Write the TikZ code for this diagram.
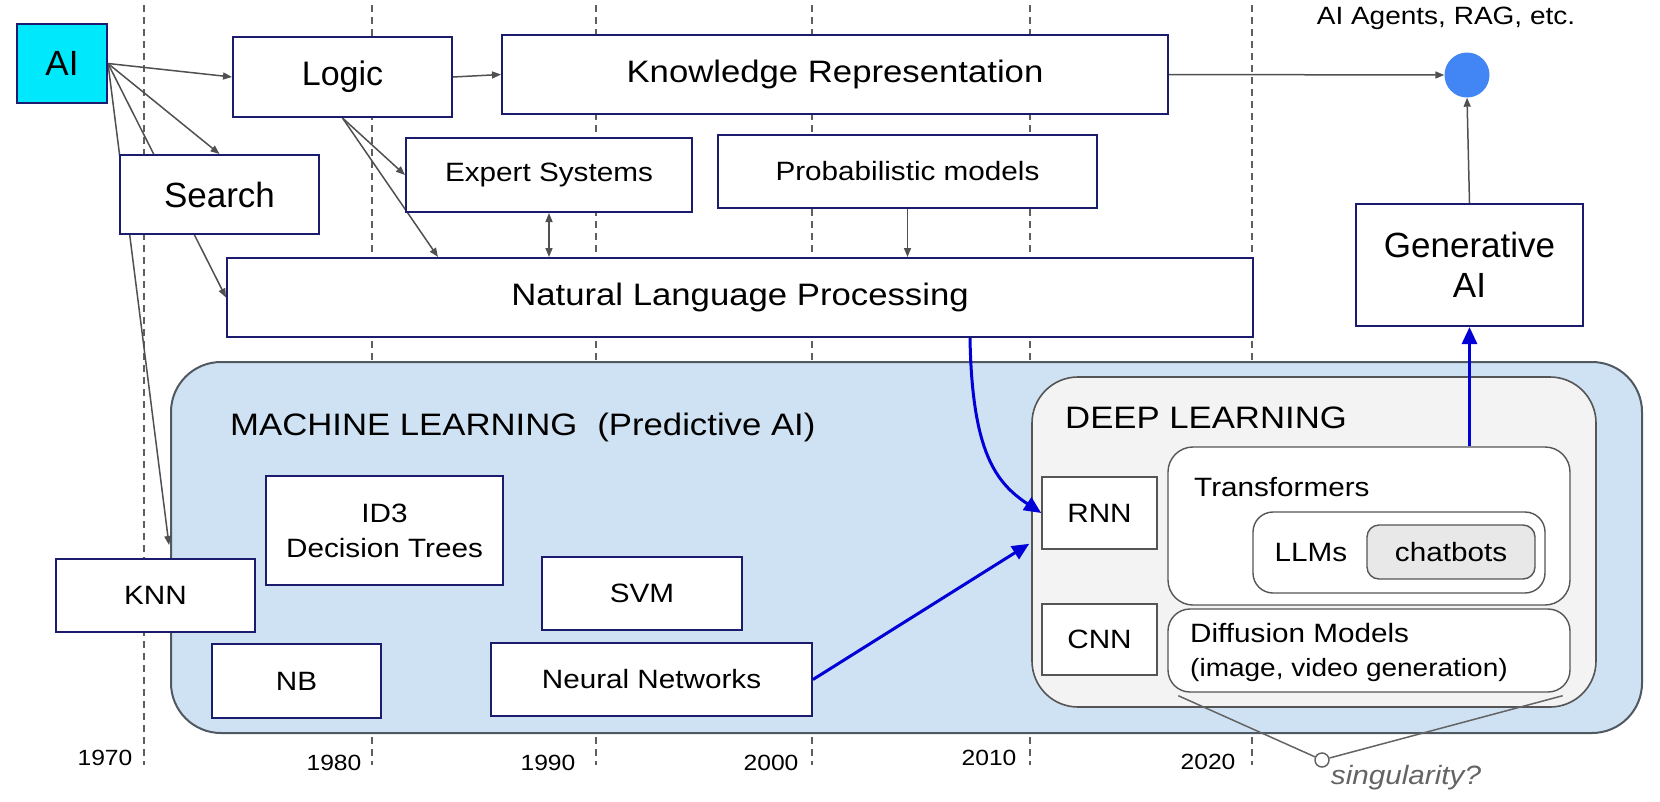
\documentclass[tikz,border=0pt]{standalone}
\usepackage{fontspec}
\setmainfont[FakeStretch=1.12]{Liberation Sans}
\newfontfamily\plainsans{Liberation Sans}
\usetikzlibrary{arrows.meta,calc}
\pgfdeclarelayer{back}
\pgfdeclarelayer{mid}
\pgfsetlayers{back,mid,main}
\definecolor{navy}{RGB}{28,28,110}
\definecolor{aicyan}{RGB}{0,232,252}
\definecolor{arrgray}{RGB}{80,80,80}
\definecolor{dashgray}{RGB}{95,95,95}
\definecolor{mlblue}{RGB}{207,226,243}
\definecolor{mledge}{RGB}{80,88,98}
\definecolor{dlfill}{RGB}{243,243,243}
\definecolor{dledge}{RGB}{85,85,85}
\definecolor{chatfill}{RGB}{232,232,232}
\definecolor{dotblue}{RGB}{66,133,244}
\definecolor{deepblue}{RGB}{0,0,215}
\definecolor{singgray}{RGB}{100,100,100}
\newcommand{\fsA}{\fontsize{31}{40}\selectfont}
\newcommand{\fsB}{\fontsize{26.5}{35}\selectfont}
\newcommand{\fsC}{\fontsize{22}{26}\selectfont}
\newcommand{\fsD}{\fontsize{25}{30}\selectfont}
\newcommand{\fsP}{\plainsans\fontsize{35}{40}\selectfont}
\begin{document}
\begin{tikzpicture}[x=1pt,y=-1pt,
  box/.style={draw=navy,line width=2pt,fill=white,inner sep=0pt,align=center},
  dlbox/.style={draw=dledge,line width=1.6pt,fill=white,inner sep=0pt},
  rbox/.style={draw=dledge,line width=1.4pt,fill=white,rounded corners=#1,inner sep=0pt},
  garrow/.style={draw=arrgray,line width=1.5pt,-{Triangle[length=9pt,width=7pt]}},
  darrow/.style={draw=arrgray,line width=1.5pt,{Triangle[length=9pt,width=7pt]}-{Triangle[length=9pt,width=7pt]}},
  barrow/.style={draw=deepblue,line width=3pt,-{Triangle[length=17pt,width=15pt]}},
  yearline/.style={draw=dashgray,line width=1.5pt,dash pattern=on 7pt off 5pt},
  lbl/.style={inner sep=0pt}]
\useasboundingbox (0,0) rectangle (1660,801);

\begin{pgfonlayer}{back}
  \fill[white] (0,0) rectangle (1660,801);
  \foreach \x in {144,372,596,812,1030,1252} \draw[yearline] (\x,5) -- (\x,765);
  \node[draw=mledge,line width=2pt,fill=mlblue,rounded corners=50pt,minimum width=1471pt,minimum height=371pt,inner sep=0pt] (ML) at (906.5,547.5) {};
  \node[draw=dledge,line width=1.6pt,fill=dlfill,rounded corners=46pt,minimum width=564pt,minimum height=330pt,inner sep=0pt] (DL) at (1314,542) {};
\end{pgfonlayer}

% top boxes
\node[box,fill=aicyan,font=\fsP,minimum width=90pt,minimum height=79pt] (AI) at (62,63.5) {AI};
\node[box,font=\plainsans\fontsize{34}{40}\selectfont,minimum width=219pt,minimum height=80pt] (Logic) at (342.5,77) {Logic};
\node[box,font=\fsA,minimum width=666pt,minimum height=79pt] (KR) at (835,74.5) {Knowledge Representation};
\node[box,font=\fsP,minimum width=199pt,minimum height=79pt] (Search) at (219.5,194.5) {Search};
\node[box,font=\fsB,minimum width=286pt,minimum height=74pt] (Expert) at (549,175) {Expert Systems};
\node[box,font=\fsB,minimum width=379pt,minimum height=73pt] (Prob) at (907.5,171.5) {Probabilistic models};
\node[box,font=\fsA,minimum width=1026pt,minimum height=79pt] (NLP) at (740,297.5) {Natural Language Processing};
\node[circle,fill=dotblue,minimum size=45pt,inner sep=0pt] (dot) at (1467,75) {};
\node[lbl,font=\fsD] (agents) at (1446,18) {AI Agents, RAG, etc.};
\node[box,font=\fsP,minimum width=227pt,minimum height=122pt] (GenAI) at (1469.5,265) {Generative\\AI};

% machine learning
\node[lbl,font=\fsA,anchor=west] (mltitle) at (230,427) {MACHINE LEARNING\hspace{20pt}(Predictive AI)};
\node[box,font=\fsB,minimum width=237pt,minimum height=109pt] (ID3) at (384.5,530.5) {ID3\\Decision Trees};
\node[box,font=\fsB,minimum width=199pt,minimum height=73pt] (KNN) at (155.5,595.5) {KNN};
\node[box,font=\fsB,minimum width=169pt,minimum height=74pt] (NB) at (296.5,681) {NB};
\node[box,font=\fsB,minimum width=200pt,minimum height=73pt] (SVM) at (642,593.5) {SVM};
\node[box,font=\fsB,minimum width=321pt,minimum height=73pt] (NN) at (651.5,679.5) {Neural Networks};

% deep learning
\node[lbl,font=\fsA,anchor=west] (dltitle) at (1065,418) {DEEP LEARNING};
\node[dlbox,font=\fsB,minimum width=115pt,minimum height=72pt] (RNN) at (1099.5,513) {RNN};
\node[dlbox,font=\fsB,minimum width=115pt,minimum height=71pt] (CNN) at (1099.5,639.5) {CNN};
\node[rbox=25pt,minimum width=402pt,minimum height=158pt] (Trans) at (1369,526) {};
\node[lbl,font=\fsB,anchor=west] (transtitle) at (1194,487) {Transformers};
\node[rbox=20pt,minimum width=292pt,minimum height=81pt] (LLM) at (1399,552.5) {};
\node[lbl,font=\fsB] (llmtitle) at (1311,553) {LLMs};
\node[rbox=12pt,fill=chatfill,font=\fsB,minimum width=168pt,minimum height=54pt] (chat) at (1451,552) {chatbots};
\node[rbox=22pt,minimum width=402pt,minimum height=83pt] (Diff) at (1369,650.5) {};
\node[lbl,font=\fsB,anchor=west] (difftitle) at (1190,633) {Diffusion Models};
\node[lbl,font=\fsD,anchor=west] (diffsub) at (1190,670) {(image, video generation)};

% years
\node[lbl,font=\fsC] (y1970) at (105,758) {1970};
\node[lbl,font=\fsC] (y1980) at (334,763) {1980};
\node[lbl,font=\fsC] (y1990) at (548,763) {1990};
\node[lbl,font=\fsC] (y2000) at (771,763) {2000};
\node[lbl,font=\fsC] (y2010) at (989,758) {2010};
\node[lbl,font=\fsC] (y2020) at (1208,762) {2020};

% singularity
\node[circle,draw=singgray,line width=1.5pt,fill=white,minimum size=14pt,inner sep=0pt] (sing) at (1322,760) {};
\node[lbl,font=\fsB\itshape,text=singgray] (singtext) at (1406,778) {singularity?};
\coordinate (sl) at ($(Diff.south west)+(11,3)$);
\coordinate (sr) at ($(Diff.south east)+(-8,3)$);
\draw[singgray,line width=1.5pt] (sl) -- (sing) -- (sr);

% gray connectors
\coordinate (knnin) at ($(KNN.north west)+(114,-13)$);
\coordinate (nlpin) at ($(NLP.north west)+(212,0)$);
\begin{pgfonlayer}{mid}
  \draw[garrow] (AI.east) -- (Logic.west);
  \draw[garrow] (AI.east) -- (Search.north);
  \draw[garrow] (AI.east) -- (NLP.west);
  \draw[garrow] (AI.east) -- (knnin);
  \draw[garrow] (Logic.east) -- (KR.west);
  \draw[garrow] (Logic.south) -- (Expert.west);
  \draw[garrow] (Logic.south) -- (nlpin);
  \draw[darrow] (Expert.south) -- (Expert.south |- NLP.north);
  \draw[garrow] (Prob.south) -- (Prob.south |- NLP.north);
  \draw[garrow] (KR.east) -- (dot.west);
  \draw[garrow] (GenAI.north) -- (dot.south);
\end{pgfonlayer}

% blue connectors
\coordinate (nlpout) at ($(NLP.south west)+(744,0)$);
\coordinate (rnnin) at ($(RNN.south west)+(-12,-6)$);
\draw[barrow] (nlpout) .. controls ($(nlpout)+(2,115)$) and ($(RNN.west)+(-45,-30)$) .. (RNN.west);
\draw[barrow] (NN.east) -- (rnnin);
\draw[barrow] (GenAI.south |- Trans.north) -- (GenAI.south);
\end{tikzpicture}
\end{document}
